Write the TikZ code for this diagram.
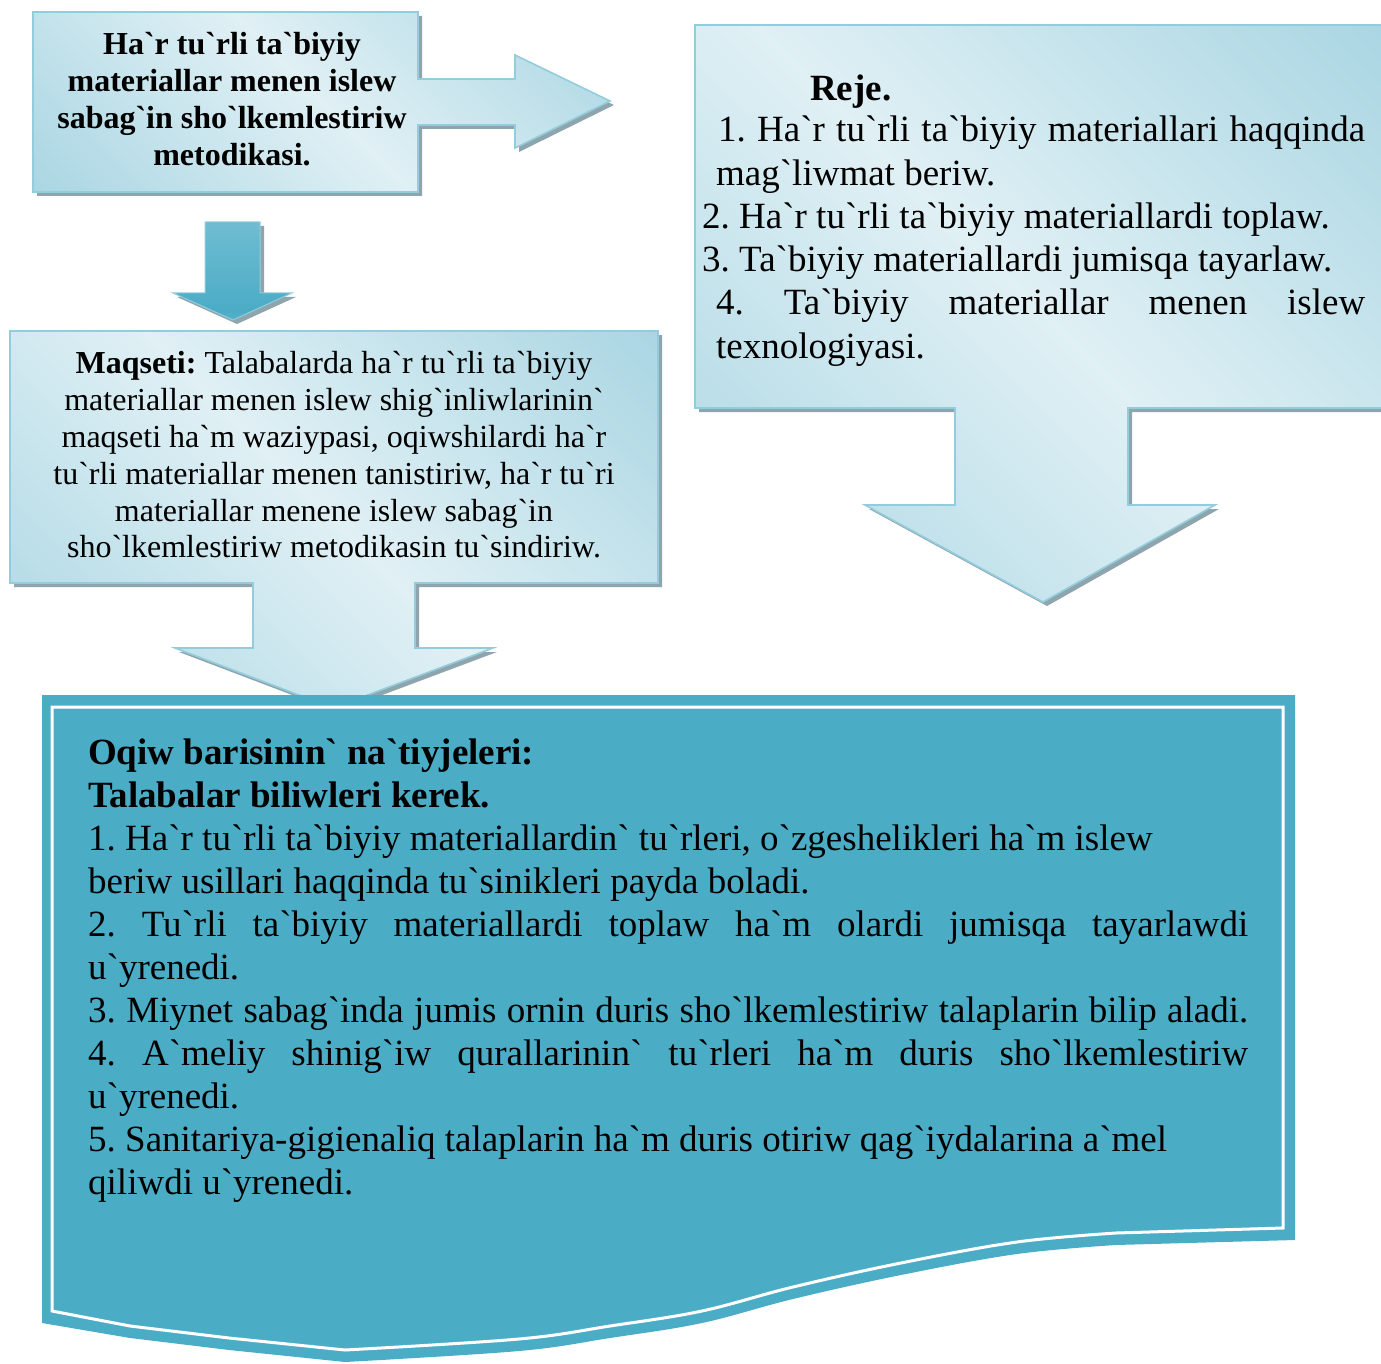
\documentclass[tikz,border=0pt]{standalone}
\usepackage{fontspec}
\setmainfont{Liberation Serif}[Ligatures=TeXOff]
\frenchspacing
\definecolor{clight}{HTML}{E0F0F5}
\definecolor{cdark}{HTML}{93CBDB}
\definecolor{cborder}{HTML}{93CDDD}
\definecolor{cshadow}{HTML}{8FA5AD}
\definecolor{cteal}{HTML}{4BACC6}
\definecolor{cmid}{HTML}{9ACFDE}
\pgfdeclarehorizontalshading{band}{100bp}{color(0bp)=(cdark); color(50bp)=(clight); color(100bp)=(cdark)}
\pgfdeclareverticalshading{darrow}{100bp}{color(0bp)=(cmid); color(30bp)=(cteal); color(75bp)=(cteal!80!white); color(100bp)=(cmid)}
\tikzset{
  callout/.style={shading=band, shading angle=45, draw=cborder, line width=1.6pt},
  shadowpath/.style={fill=cshadow, xshift=4pt, yshift=-4pt},
  txt/.style={inner sep=0pt, anchor=base west},
  big/.style={font=\fontsize{37}{43}\selectfont},
  bigb/.style={font=\bfseries\fontsize{37}{43}\selectfont},
}
\begin{document}
\begin{tikzpicture}[x=1pt,y=-1pt]
\useasboundingbox (0,0) rectangle (1381,1364);
% top-left callout with right arrow
\fill[shadowpath] (33,12) -- (418,12) -- (418,79) -- (515,79) -- (515,55) -- (610,101) -- (515,148) -- (515,125) -- (418,125) -- (418,192) -- (33,192) -- cycle;
\shade[callout] (33,12) -- (418,12) -- (418,79) -- (515,79) -- (515,55) -- (610,101) -- (515,148) -- (515,125) -- (418,125) -- (418,192) -- (33,192) -- cycle;
\node[inner sep=0pt, align=center, font=\bfseries\fontsize{32}{37}\selectfont] (title) at (232,99)
  {Ha`r tu`rli ta`biyiy\\materiallar menen islew\\sabag`in sho`lkemlestiriw\\metodikasi.};
% small down arrow
\fill[shadowpath] (205,222) -- (260,222) -- (260,293) -- (292,293) -- (233,320) -- (173,293) -- (205,293) -- cycle;
\shade[shading=darrow, draw=cborder, line width=1pt] (205,222) -- (260,222) -- (260,293) -- (292,293) -- (233,320) -- (173,293) -- (205,293) -- cycle;
% Reje callout
\fill[shadowpath] (695,25) -- (1390,25) -- (1390,408) -- (1128,408) -- (1128,505) -- (1215,505) -- (1043,602) -- (865,505) -- (955,505) -- (955,408) -- (695,408) -- cycle;
\shade[callout] (695,25) -- (1390,25) -- (1390,408) -- (1128,408) -- (1128,505) -- (1215,505) -- (1043,602) -- (865,505) -- (955,505) -- (955,408) -- (695,408) -- cycle;
\node[txt, bigb] (reje) at (810,101) {Reje.};
\node[txt, big] (r1) at (718,142) {\makebox[647pt][s]{1. Ha`r tu`rli ta`biyiy materiallari haqqinda}};
\node[txt, big] (r1b) at (716,186) {mag`liwmat beriw.};
\node[txt, big] (r2) at (702,229) {2. Ha`r tu`rli ta`biyiy materiallardi toplaw.};
\node[txt, big] (r3) at (702,272) {3. Ta`biyiy materiallardi jumisqa tayarlaw.};
\node[txt, big] (r4) at (716,315) {\makebox[649pt][s]{4. Ta`biyiy materiallar menen islew}};
\node[txt, big] (r4b) at (716,358) {texnologiyasi.};
% Maqseti callout
\fill[shadowpath] (10,331) -- (658,331) -- (658,583) -- (415,583) -- (415,648) -- (493,648) -- (333,708) -- (175,648) -- (253,648) -- (253,583) -- (10,583) -- cycle;
\shade[callout] (10,331) -- (658,331) -- (658,583) -- (415,583) -- (415,648) -- (493,648) -- (333,708) -- (175,648) -- (253,648) -- (253,583) -- (10,583) -- cycle;
\node[inner sep=0pt, align=center, font=\fontsize{32}{36.8}\selectfont] (maq) at (334,455)
  {\textbf{Maqseti:} Talabalarda ha`r tu`rli ta`biyiy\\materiallar menen islew shig`inliwlarinin`\\maqseti ha`m waziypasi, oqiwshilardi ha`r\\tu`rli materiallar menen tanistiriw, ha`r tu`ri\\materiallar menene islew sabag`in\\sho`lkemlestiriw metodikasin tu`sindiriw.};
% bottom box
\fill[cteal] (42,695) -- (1295,695) -- (1295,1240) -- (1116,1245)
  -- plot[smooth, tension=0.6] coordinates {(1116,1245) (1017,1254) (901,1275) (793,1299) (702,1323) (610,1338) (519,1351) (345,1362)}
  -- (229,1350) -- (130,1338) -- (42,1323) -- cycle;
\draw[white, line width=3pt] (52,707) -- (1283,707) -- (1283,1228) -- (1116,1233)
  -- plot[smooth, tension=0.6] coordinates {(1116,1233) (1017,1242) (901,1263) (793,1287) (702,1311) (610,1326) (519,1339) (345,1350)}
  -- (229,1338) -- (130,1326) -- (52,1311) -- cycle;
\node[txt, bigb] (b0) at (88,764) {Oqiw barisinin` na`tiyjeleri:};
\node[txt, bigb] (b0b) at (88,807) {Talabalar biliwleri kerek.};
\node[txt, big] (b1) at (88,850) {1. Ha`r tu`rli ta`biyiy materiallardin` tu`rleri, o`zgeshelikleri ha`m islew};
\node[txt, big] (b1b) at (88,893) {beriw usillari haqqinda tu`sinikleri payda boladi.};
\node[txt, big] (b2) at (88,936) {\makebox[1160pt][s]{2. Tu`rli ta`biyiy materiallardi toplaw ha`m olardi jumisqa tayarlawdi}};
\node[txt, big] (b2b) at (88,979) {u`yrenedi.};
\node[txt, big] (b3) at (88,1022) {\makebox[1160pt][s]{3. Miynet sabag`inda jumis ornin duris sho`lkemlestiriw talaplarin bilip aladi.}};
\node[txt, big] (b4) at (88,1065) {\makebox[1160pt][s]{4. A`meliy shinig`iw qurallarinin` tu`rleri ha`m duris sho`lkemlestiriw}};
\node[txt, big] (b4b) at (88,1108) {u`yrenedi.};
\node[txt, big] (b5) at (88,1151) {5. Sanitariya-gigienaliq talaplarin ha`m duris otiriw qag`iydalarina a`mel};
\node[txt, big] (b5b) at (88,1194) {qiliwdi u`yrenedi.};
\end{tikzpicture}
\end{document}
